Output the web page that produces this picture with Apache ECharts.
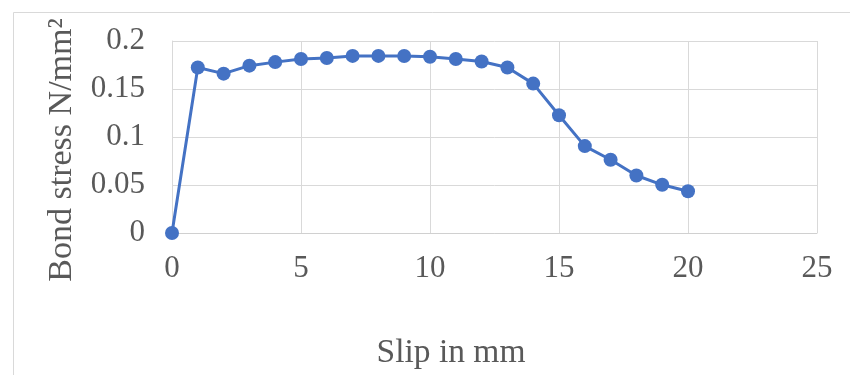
<!DOCTYPE html>
<html>
<head>
<meta charset="utf-8">
<script src="https://cdn.jsdelivr.net/npm/echarts@6/dist/echarts.min.js"></script>
<style>html,body{margin:0;padding:0;background:#fff}#c{width:850px;height:375px}</style>
</head>
<body>
<div id="c"></div>
<script>
const slip = [0,1,2,3,4,5,6,7,8,9,10,11,12,13,14,15,16,17,18,19,20];
const bondStress = [0,0.1724,0.166,0.1743,0.178,0.1813,0.1823,0.1845,0.1845,0.1843,0.1836,0.1813,0.1787,0.1724,0.1556,0.1227,0.0905,0.0763,0.0599,0.0502,0.0435];
const xTicks = {min:0, max:25, interval:5};
const yTicks = {min:0, max:0.2, interval:0.05};
const xTitle = 'Slip in mm';
const yTitle = 'Bond stress N/mm\u00B2';

const chart = echarts.init(document.getElementById('c'), null, {renderer:'canvas'});
const font = '"Liberation Serif","Times New Roman",serif';
chart.setOption({
  animation:false,
  backgroundColor:'#fff',
  graphic:[{type:'rect', left:11, top:10, shape:{width:900, height:400}, style:{fill:'none', stroke:'#d9d9d9', lineWidth:1}, silent:true}],
  grid:{left:172, right:33, top:41, bottom:127, containLabel:false},
  xAxis:{type:'value', min:xTicks.min, max:xTicks.max, interval:xTicks.interval,
    name:xTitle, nameLocation:'middle', nameGap:103,
    nameTextStyle:{fontFamily:font, fontSize:33.5, color:'#595959', padding:[0,87,0,0]},
    axisLine:{show:true, lineStyle:{color:'#d0d0d0', width:1}},
    axisTick:{show:false},
    axisLabel:{fontFamily:font, fontSize:31, color:'#595959', margin:20},
    splitLine:{show:true, lineStyle:{color:'#d9d9d9', width:1}}},
  yAxis:{type:'value', min:yTicks.min, max:yTicks.max, interval:yTicks.interval,
    name:yTitle, nameLocation:'middle', nameGap:93, nameRotate:90,
    nameTextStyle:{fontFamily:font, fontSize:34, color:'#595959', padding:[0,26,0,0]},
    axisLine:{show:true, lineStyle:{color:'#d9d9d9', width:1}},
    axisTick:{show:false},
    axisLabel:{fontFamily:font, fontSize:31, color:'#595959', margin:27},
    splitLine:{show:true, lineStyle:{color:'#d9d9d9', width:1}}},
  series:[{type:'line', data:slip.map((x,i)=>[x,bondStress[i]]),
    symbol:'circle', symbolSize:14, showSymbol:true,
    lineStyle:{color:'#4472c4', width:3},
    itemStyle:{color:'#4472c4'}}]
});
</script>
</body>
</html>
